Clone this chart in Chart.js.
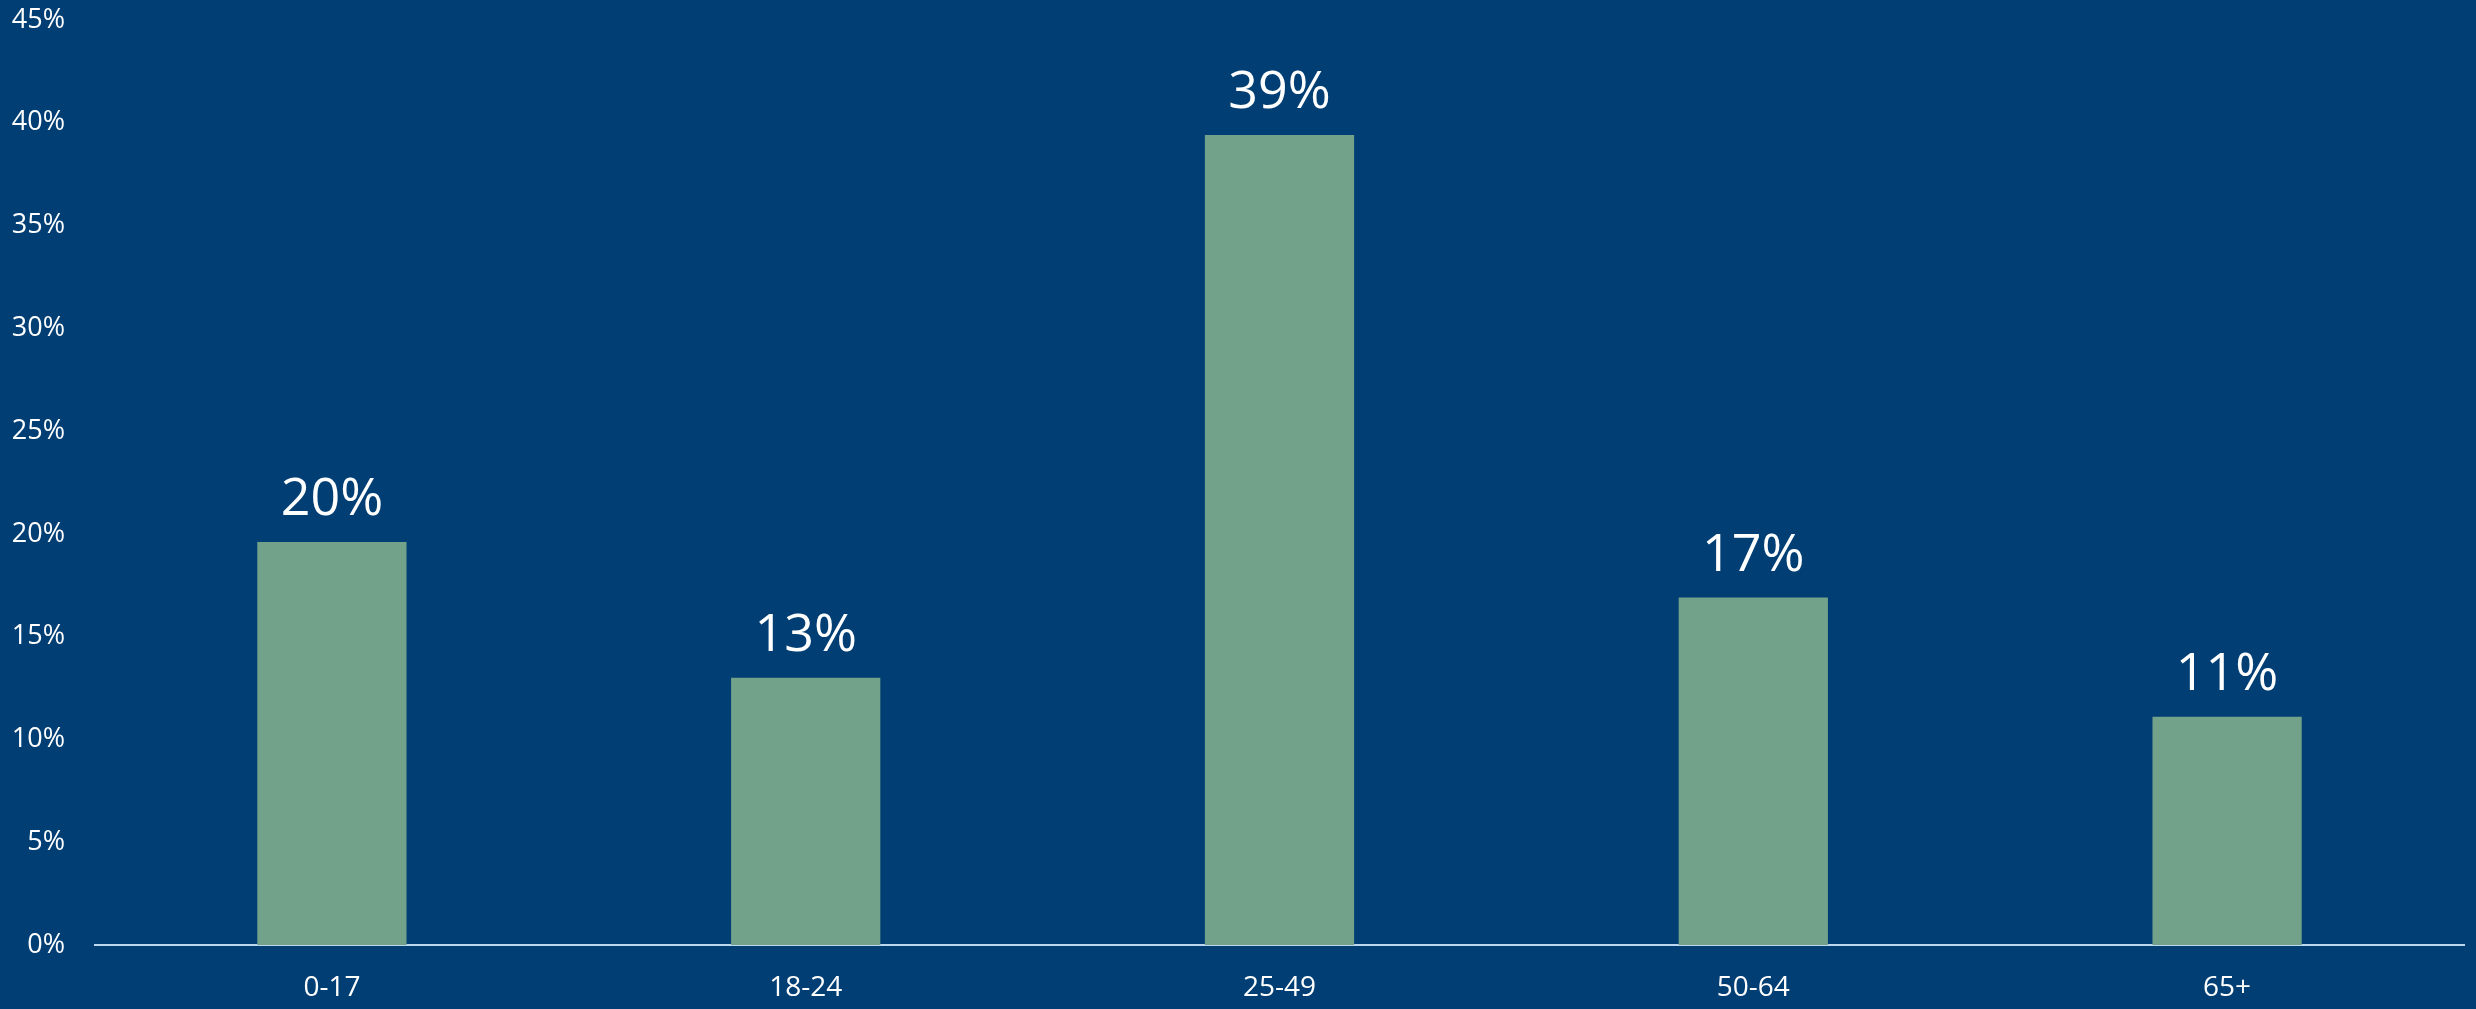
<!DOCTYPE html>
<html>
<head>
<meta charset="utf-8">
<script src="https://cdn.jsdelivr.net/npm/chart.js@4"></script>
<style>
  html, body { margin: 0; padding: 0; background: #013e74; overflow: hidden; }
  canvas { display: block; }
</style>
</head>
<body>
<canvas id="myChart" width="2476" height="1009"></canvas>
<script>
// Faixas etárias e percentuais
const categories = ['0-17', '18-24', '25-49', '50-64', '65+'];
const shares = [19.6, 13.0, 39.4, 16.9, 11.1];
const valueLabels = ['20%', '13%', '39%', '17%', '11%'];
const yTicks = [0, 5, 10, 15, 20, 25, 30, 35, 40, 45];

const fontFamily = '"Open Sans", "Noto Sans", sans-serif';

// rótulos acima das barras
const barLabels = {
    id: 'barLabels',
    afterDatasetsDraw(chart) {
        const ctx = chart.ctx;
        const meta = chart.getDatasetMeta(0);
        ctx.save();
        ctx.fillStyle = '#ffffff';
        ctx.font = '52px ' + fontFamily;
        ctx.textAlign = 'center';
        ctx.textBaseline = 'alphabetic';
        meta.data.forEach((bar, i) => {
            ctx.fillText(valueLabels[i], bar.x, bar.y - 27);
        });
        ctx.restore();
    }
};

const ctx = document.getElementById('myChart').getContext('2d');
const myChart = new Chart(ctx, {
    type: 'bar',
    data: {
        labels: categories,
        datasets: [{
            data: shares,
            backgroundColor: '#72a28a',
            borderWidth: 0,
            barPercentage: 0.63,
            categoryPercentage: 0.5
        }]
    },
    options: {
        responsive: false,
        animation: false,
        devicePixelRatio: 1,
        layout: { padding: { top: 20, right: 12, bottom: 4, left: 0 } },
        plugins: {
            legend: { display: false },
            tooltip: { enabled: false }
        },
        scales: {
            x: {
                afterFit(scale) {
                    scale.height = 60;
                    scale.paddingLeft = 0;
                    scale.paddingRight = 0;
                },
                grid: { display: false, drawTicks: false },
                border: { display: true, color: '#bdd7ee', width: 2 },
                ticks: {
                    color: '#ffffff',
                    padding: 26,
                    maxRotation: 0,
                    font: { size: 28, family: fontFamily }
                }
            },
            y: {
                min: 0,
                max: 45,
                afterBuildTicks(scale) {
                    scale.ticks = yTicks.map(v => ({ value: v }));
                },
                afterFit(scale) {
                    scale.width = 95;
                    scale.paddingTop = 0;
                    scale.paddingBottom = 0;
                },
                grid: { display: false, drawTicks: false },
                border: { display: false },
                ticks: {
                    color: '#ffffff',
                    padding: 30,
                    font: { size: 27, family: fontFamily },
                    callback: v => v + '%'
                }
            }
        }
    },
    plugins: [barLabels]
});
</script>
</body>
</html>
